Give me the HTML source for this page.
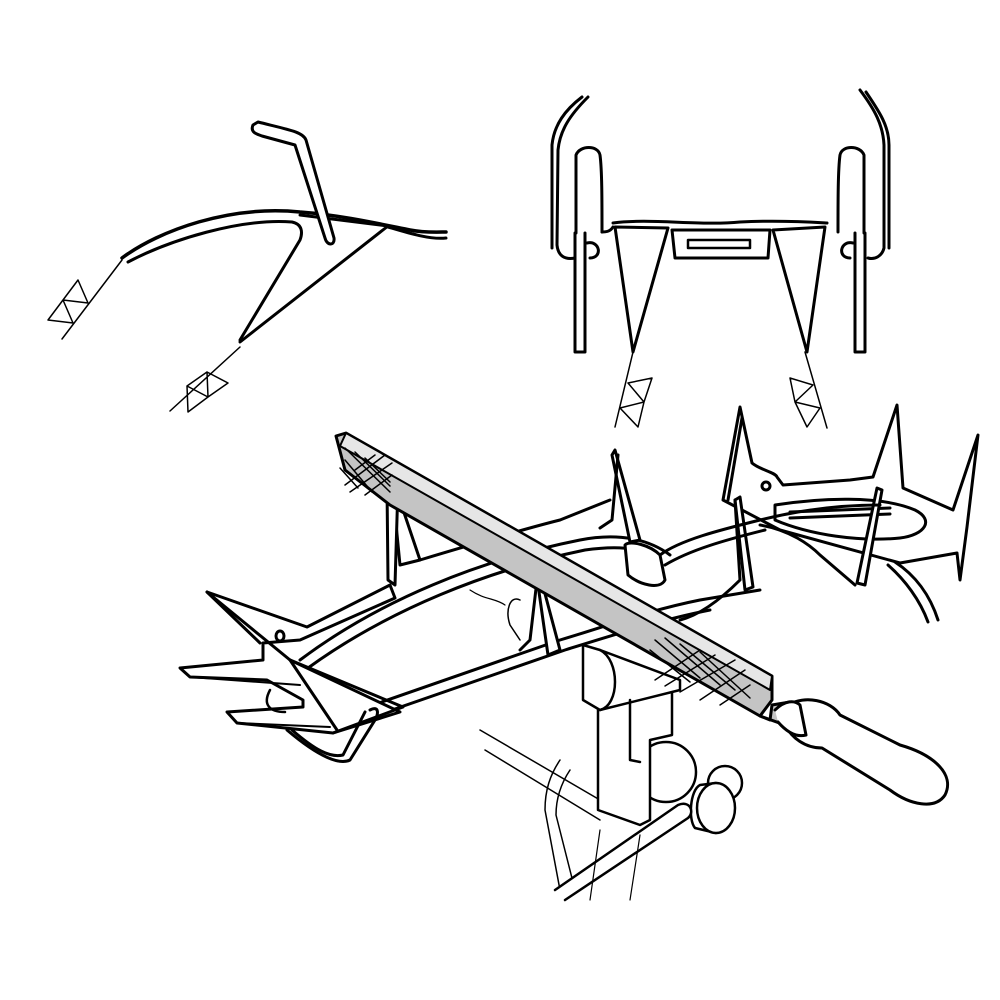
<!DOCTYPE html>
<html><head><meta charset="utf-8"><style>html,body{margin:0;padding:0;background:#fff}svg{display:block}</style></head>
<body>
<svg width="1000" height="1000" viewBox="0 0 1000 1000" xmlns="http://www.w3.org/2000/svg" fill="none" stroke="#000" stroke-linejoin="round" stroke-linecap="round">
<rect width="1000" height="1000" fill="#fff" stroke="none"/>
<!-- top-left side view -->
<g stroke-width="3">
<path d="M122,258 C160,230 230,205 300,212 C340,215 380,224 410,230 C425,233 440,232 446,232" stroke-width="3.5"/>
<path d="M128,262 C170,240 240,218 292,222 C302,224 303,232 300,240 L240,340"/>
<path d="M388,227 C405,232 430,240 446,238"/>
<path d="M300,215 L388,226 L240,342"/>
<path d="M253,125 C250,132 256,134 262,136 L295,145 L325,238 C327,246 335,246 334,238 L306,140 C303,132 290,130 258,122 Z" fill="#fff"/>
</g>
<g stroke-width="1.5">
<path d="M122,260 L62,339"/>
<path d="M78,280 L63,300 L88,303 Z M63,300 L48,320 L73,323 Z"/>
<path d="M240,347 L170,411"/>
<path d="M207,372 L228,383 L208,397 Z M187,386 L188,412 L208,397 Z M187,386 L207,372"/>
<path d="M633,352 L615,427"/>
<path d="M628,383 L652,378 L644,402 Z M644,402 L620,408 L638,427 Z"/>
<path d="M805,352 L827,428"/>
<path d="M790,378 L813,385 L795,402 Z M795,402 L820,408 L807,427 Z"/>
</g>
<!-- top-right front view -->
<g stroke-width="3">
<path d="M588,97 C570,115 560,130 558,150 L557,245 C558,256 565,260 575,258"/>
<path d="M582,97 C565,110 554,125 552,145 L552,248"/>
<path d="M860,90 C875,110 883,125 884,145 L884,248 C882,256 875,260 868,258"/>
<path d="M866,92 C878,110 889,125 889,145 L889,248"/>
<path d="M602,232 C602,200 602,170 600,155 C598,145 580,145 576,155 L576,233"/>
<path d="M602,232 C605,232 610,232 613,227"/>
<path d="M838,232 C838,200 838,170 840,155 C842,145 860,145 864,155 L864,233"/>
<path d="M613,223 C650,218 700,226 740,222 C780,220 810,222 827,223"/>
<path d="M615,227 L633,352 L668,228 Z" fill="#fff"/>
<path d="M773,230 L807,352 L825,227 Z" fill="#fff"/>
<path d="M672,230 L770,230 L768,258 L675,258 Z"/>
<path d="M688,240 L750,240 L750,248 L688,248 Z" stroke-width="2.5"/>
<path d="M575,233 L575,352 L585,352 L585,233"/>
<path d="M587,243 C600,240 603,258 590,258"/>
<path d="M855,233 L855,352 L865,352 L865,233"/>
<path d="M853,243 C840,240 837,258 850,258"/>
</g>
<!-- right crampon -->
<g stroke-width="3" fill="#fff">
<path d="M723,500 L740,407 L752,463 C760,470 775,472 777,477 L783,485 L850,480 L873,477 L897,405 L903,488 L953,510 L978,435 L967,527 L960,580 L957,553 L900,563 L780,530 Z"/>
<path d="M728,500 L742,418"/>
<path d="M775,505 C820,498 880,495 915,510 C935,520 925,535 900,538 C860,542 810,535 775,520 Z"/>
<path d="M790,512 L890,508 M790,518 L890,514"/>
<path d="M760,525 C790,530 810,545 820,555 L855,585" fill="none"/>
<path d="M740,497 L753,587 L745,590 L735,500 Z"/>
<path d="M877,488 L857,583 L865,585 L882,490 Z"/>
<path d="M895,562 C915,575 930,595 938,620" fill="none"/>
<path d="M888,565 C905,580 920,600 928,622" fill="none"/>
<circle cx="766" cy="486" r="4"/>
</g>
<!-- left crampon frame -->
<g stroke-width="3">
<path d="M300,660 C380,600 480,560 580,540 C620,532 650,540 670,555"/>
<path d="M308,668 C388,610 488,570 585,550 C620,545 645,548 660,560"/>
<path d="M660,555 C680,540 720,530 760,520 C800,510 840,505 880,505"/>
<path d="M665,565 C690,550 725,540 765,530"/>
<path d="M330,720 L560,640 C610,625 650,610 700,600 L760,590"/>
<path d="M340,728 L565,650 C610,636 660,620 710,610"/>
<path d="M420,560 C470,545 520,530 560,520 L610,500"/>
<path d="M735,500 L740,580 C720,600 700,615 680,620"/>
<path d="M393,480 L420,560 L400,565 L392,483" fill="#fff"/>
<path d="M387,487 L388,580 L395,585 L398,485 Z" fill="#fff"/>
<path d="M615,450 L640,540 L630,542 L612,455 Z" fill="#fff"/>
<path d="M618,455 L612,520 L600,528"/>
<path d="M625,545 C630,540 650,545 660,555 L665,580 C660,590 640,585 628,575 Z" fill="#fff"/>
<path d="M540,575 L560,650 L548,655 L537,578 Z" fill="#fff"/>
<path d="M537,580 L530,640 L520,650"/>
<path d="M520,600 C510,595 505,610 510,625 L520,640" stroke-width="1.5"/>
<path d="M470,590 C485,600 495,598 505,605" stroke-width="1.2"/>
<path d="M207,592 L307,627 L390,585 L395,598 L300,640 L263,643 L263,660 L180,668 L190,677 L267,680 L303,700 L303,707 L227,712 L237,723 L333,733 L400,712 L290,660 Z" fill="#fff"/>
<path d="M207,592 L260,643"/>
<path d="M290,660 L337,730"/>
<path d="M290,660 L403,707 L333,733"/>
<path d="M190,677 L300,685 M237,723 L330,727" stroke-width="2"/>
<ellipse cx="280" cy="636" rx="4" ry="5"/>
<path d="M270,690 C262,705 270,712 285,712" stroke-width="2.5"/>
<path d="M370,710 C380,705 378,715 375,720 L350,760 C340,765 320,758 287,730"/>
<path d="M365,712 L343,755 C330,758 315,750 292,730"/>
</g>
<!-- vise -->
<g stroke-width="2.5" fill="#fff">
<path d="M480,730 L600,800 M485,750 L600,820" stroke-width="1.5" fill="none"/>
<path d="M560,760 C550,775 545,790 545,810 L560,890" stroke-width="1.5" fill="none"/>
<path d="M570,770 C560,785 556,800 556,815 L575,890" stroke-width="1.5" fill="none"/>
<circle cx="666" cy="772" r="30"/>
<path d="M598,707 L598,810 L640,825 L650,820 L650,740 L672,735 L672,685 Z"/>
<path d="M583,645 L600,650 L680,680 L680,690 L600,710 L583,700 Z"/>
<path d="M600,650 C620,660 620,705 600,710" fill="none"/>
<path d="M630,700 L630,760 L640,762" fill="none"/>
<circle cx="725" cy="783" r="17"/>
<path d="M700,785 C690,790 688,820 695,828 L716,833 L716,783 Z" />
<ellipse cx="716" cy="808" rx="19" ry="25"/>
<path d="M555,890 L678,805 C690,800 695,812 688,818 L565,900"/>
<path d="M600,830 L590,900 M640,835 L630,900" stroke-width="1.2" fill="none"/>
</g>
<!-- file -->
<g stroke-width="3">
<path d="M336,436 L346,433 L772,676 L772,700 L760,716 L390,505 L345,470 Z" fill="#c4c4c4"/>
<path d="M346,433 L772,676 L770,690 L340,446 Z" fill="#e6e6e6" stroke-width="2"/>
<g stroke-width="1.5">
<path d="M345,448 L390,492 M355,452 L390,486 M365,458 L390,482 M345,460 L372,492 M340,468 L358,488"/>
<path d="M345,485 L385,455 M350,492 L392,463 M355,470 L375,455 M365,495 L392,475"/>
<path d="M655,640 L700,678 M665,638 L720,685 M680,644 L735,690 M650,650 L690,682 M700,652 L750,698"/>
<path d="M655,680 L700,650 M665,686 L715,655 M680,692 L735,660 M700,700 L745,670 M720,705 L750,685"/>
</g>
<path d="M760,716 L770,720 L772,705 L790,702 L800,728 L785,725 Z" fill="#c4c4c4"/>
<path d="M788,705 C805,695 830,700 840,715 L900,745 C935,755 955,775 945,795 C935,810 910,805 890,790 L822,748 C805,748 792,738 785,725 Z" fill="#fff"/>
<path d="M775,710 C785,700 795,700 800,705 L806,735 C795,738 785,730 778,722" fill="#fff"/>
</g>
</svg>
</body></html>
